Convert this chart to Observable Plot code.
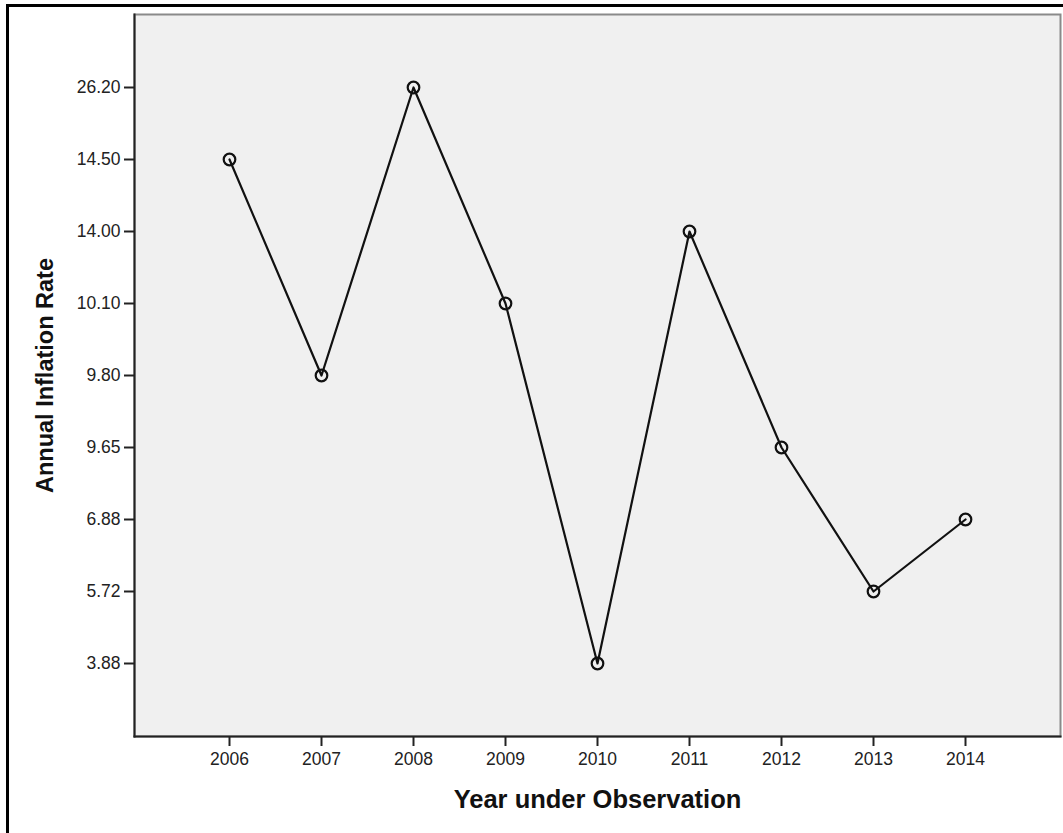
<!DOCTYPE html>
<html>
<head>
<meta charset="utf-8">
<script src="https://cdn.jsdelivr.net/npm/d3@7"></script>
<script src="https://cdn.jsdelivr.net/npm/@observablehq/plot@0.6"></script>
<style>
  html, body { margin: 0; padding: 0; background: #fff; }
  #wrap { position: relative; width: 1063px; height: 833px; overflow: hidden; }
  #wrap svg { position: absolute; left: 0; top: 0; }
  #outer { position: absolute; left: 6px; top: 4px; width: 1100px; height: 900px; border-left: 3px solid #000; border-top: 3px solid #000; box-sizing: border-box; pointer-events: none; }
</style>
</head>
<body>
<div id="wrap"><div id="outer"></div></div>
<script>
// Data
const years = ["2006", "2007", "2008", "2009", "2010", "2011", "2012", "2013", "2014"];
const rates = ["14.50", "9.80", "26.20", "10.10", "3.88", "14.00", "9.65", "5.72", "6.88"];
const rateTicks = ["3.88", "5.72", "6.88", "9.65", "9.80", "10.10", "14.00", "14.50", "26.20"];
const xTitle = "Year under Observation";
const yTitle = "Annual Inflation Rate";

const data = years.map((year, i) => ({year, rate: rates[i]}));
const font = "'Liberation Sans', Arial, sans-serif";

const chart = Plot.plot({
  width: 1063,
  height: 833,
  marginLeft: 134,
  marginRight: 3,
  marginTop: 14,
  marginBottom: 97,
  style: {fontFamily: font, fontSize: "17.5px", color: "#222", background: "transparent"},
  x: {type: "point", domain: years, padding: 1, label: null},
  y: {type: "point", domain: rateTicks, padding: 1, reverse: true, label: null},
  marks: [
    Plot.frame({fill: "#f0f0f0", stroke: "#8a8a8a", strokeWidth: 2}),
    Plot.frame({anchor: "left", stroke: "#222", strokeWidth: 2}),
    Plot.frame({anchor: "bottom", stroke: "#222", strokeWidth: 2}),
    Plot.axisX({tickSize: 10, tickPadding: 6, stroke: "#222", strokeWidth: 2, fill: "#222", label: null}),
    Plot.axisY({tickSize: 10, tickPadding: 4, stroke: "#222", strokeWidth: 2, fill: "#222", label: null}),
    Plot.line(data, {x: "year", y: "rate", stroke: "#111", strokeWidth: 2.2}),
    Plot.dot(data, {x: "year", y: "rate", r: 5.8, stroke: "#111", strokeWidth: 2.2, fill: "none"}),
    Plot.text([xTitle], {frameAnchor: "bottom", dy: 71, text: d => d, fontWeight: "bold", fontSize: 25.5, fill: "#111"}),
    Plot.text([yTitle], {frameAnchor: "left", dx: -89, rotate: -90, textAnchor: "middle", text: d => d, fontWeight: "bold", fontSize: 23.5, fill: "#111"})
  ]
});
document.getElementById("wrap").insertBefore(chart, document.getElementById("outer"));
</script>
</body>
</html>
